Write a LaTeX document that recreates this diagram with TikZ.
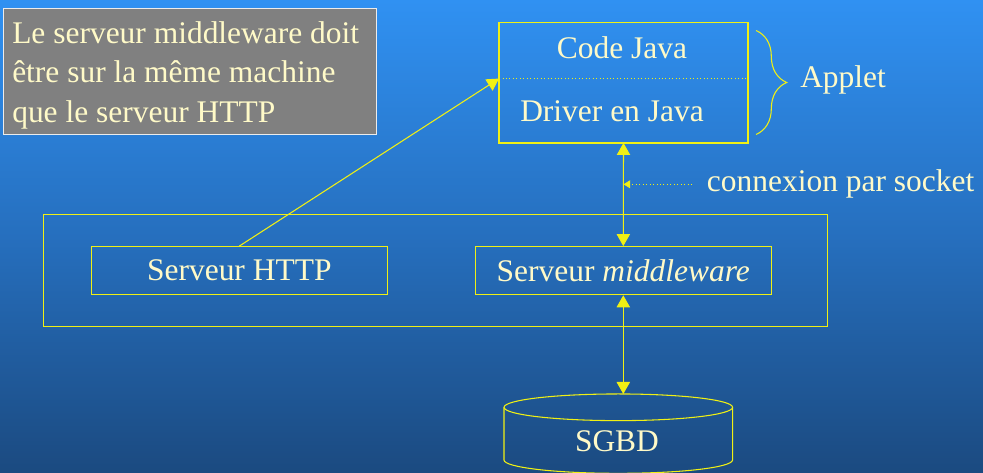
\documentclass[tikz,border=0pt]{standalone}
\usepackage{fontspec}
\setmainfont{Liberation Serif}
\usetikzlibrary{arrows.meta,decorations.pathreplacing}

\definecolor{bgtop}{RGB}{48,145,242}
\definecolor{bgmid}{RGB}{38,111,190}
\definecolor{bgbot}{RGB}{27,74,128}
\definecolor{linecol}{RGB}{240,240,20}
\definecolor{txtcol}{RGB}{255,250,200}
\definecolor{notefill}{RGB}{128,128,128}

\tikzset{
  box/.style={draw=linecol, line width=0.9pt, minimum height=36pt, minimum width=222pt, inner sep=0pt},
  label/.style={text=txtcol, font=\fontsize{23.6}{29.6}\selectfont, inner sep=0pt},
  link/.style={draw=linecol, line width=0.8pt},
  head/.style={{Triangle[width=10pt,length=9pt]}-{Triangle[width=10pt,length=9pt]}}
}

\begin{document}
\begin{tikzpicture}[x=0.75pt, y=-0.75pt]
  \useasboundingbox (0,0) rectangle (983,473);
  % background gradient
  \shade[top color=bgtop, bottom color=bgbot, middle color=bgmid] (0,0) rectangle (983,473);

  % note box
  \node[fill=notefill, draw=white!85!gray, line width=0.6pt, minimum width=279.75pt, minimum height=94.5pt,
        inner sep=0pt] (notebox) at (189.5,71) {};
  \node[label, align=left, anchor=west] (note) at (12,75)
    {Le serveur middleware doit\\être sur la même machine\\que le serveur HTTP};

  % applet box: two parts separated by a dotted line
  \node[minimum width=186.3pt, minimum height=41.7pt, inner sep=0pt] (code) at (623.5,50.5) {};
  \node[minimum width=186.3pt, minimum height=48.3pt, inner sep=0pt] (driver) at (623.5,110.5) {};
  \draw[linecol, line width=0.9pt] (code.north west) rectangle (driver.south east);
  \draw[linecol, dotted, line width=0.6pt] (code.south west) -- (code.south east);
  \node[label] (codetxt) at (622,48) {Code Java};
  \node[label] (drivertxt) at (612,111) {Driver en Java};

  % brace and its label
  \coordinate (bracetop) at (756,30.5);
  \coordinate (bracebot) at (756,134.5);
  \draw[linecol, line width=0.8pt, decorate, decoration={brace, amplitude=23pt}] (bracetop) -- (bracebot);
  \node[label, anchor=west] (applet) at (800,80) {Applet};

  % machine box with the two servers
  \node[box, minimum width=588pt, minimum height=84pt] (machine) at (435.3,270.7) {};
  \node[box, label] (http) at (239.3,270.7) {Serveur HTTP};
  \node[box, label] (mw) at (623.3,270.7) {Serveur \textit{middleware}};

  % database cylinder
  \coordinate (dbtop) at (623.3,394);
  \draw[linecol, line width=0.8pt] (618.3,407.3) ellipse[x radius=85.7pt, y radius=10pt];
  \draw[linecol, line width=0.8pt] (504,407.3) -- (504,460)
    arc[start angle=180, end angle=360, x radius=85.7pt, y radius=10pt] -- (732.6,407.3);
  \node[label] (db) at (617,441) {SGBD};

  % connectors
  \draw[link, -{Triangle[width=10pt,length=9pt]}] (http.north) -- (code.south west);
  \draw[link, head] (driver.south) -- (mw.north);
  \draw[link, head] (mw.south) -- (dbtop);

  % socket annotation
  \coordinate (sockpt) at (623.5,184.3);
  \coordinate (sockstart) at (692,184.3);
  \draw[linecol, dotted, line width=0.6pt, -{Triangle[width=6pt,length=5pt]}] (sockstart) -- (sockpt);
  \node[label, anchor=west] (socket) at (706.7,184.3) {connexion par socket};
\end{tikzpicture}
\end{document}
